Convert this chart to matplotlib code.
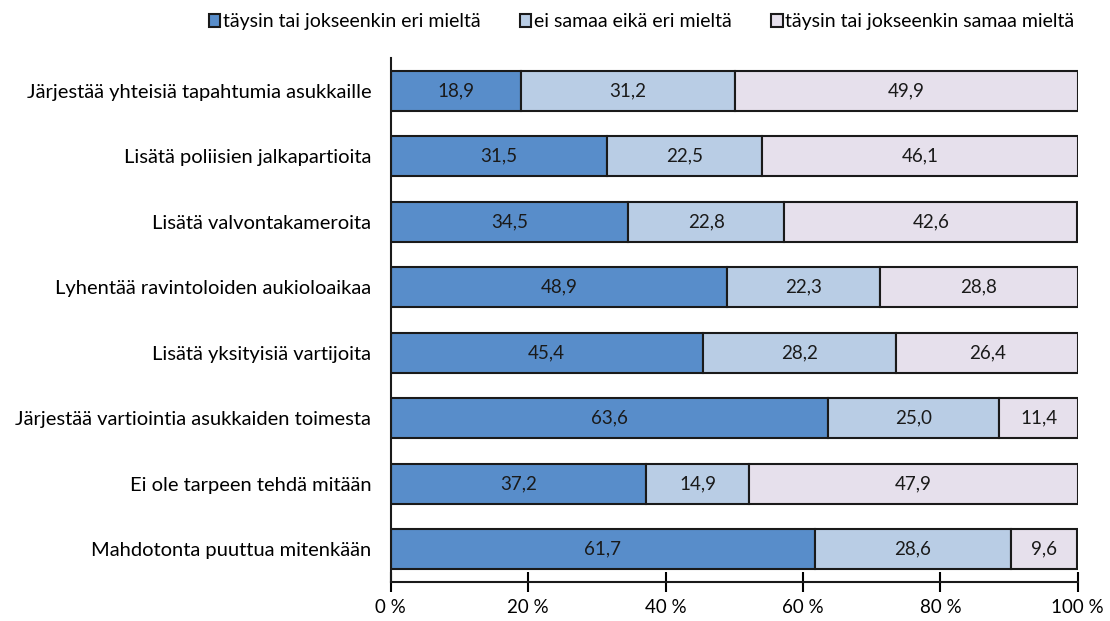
import numpy as np
import matplotlib.pyplot as plt
from matplotlib.patches import Patch

plt.rcParams['font.family'] = ['Lato', 'DejaVu Sans']

categories = ['Järjestää yhteisiä tapahtumia asukkaille',
              'Lisätä poliisien jalkapartioita',
              'Lisätä valvontakameroita',
              'Lyhentää ravintoloiden aukioloaikaa',
              'Lisätä yksityisiä vartijoita',
              'Järjestää vartiointia asukkaiden toimesta',
              'Ei ole tarpeen tehdä mitään',
              'Mahdotonta puuttua mitenkään']
disagree = [18.9, 31.5, 34.5, 48.9, 45.4, 63.6, 37.2, 61.7]
neutral = [31.2, 22.5, 22.8, 22.3, 28.2, 25.0, 14.9, 28.6]
agree = [49.9, 46.1, 42.6, 28.8, 26.4, 11.4, 47.9, 9.6]
series_names = ['täysin tai jokseenkin eri mieltä', 'ei samaa eikä eri mieltä',
                'täysin tai jokseenkin samaa mieltä']
colors = ['#588dca', '#b9cde5', '#e6e0ec']

fig = plt.figure(figsize=(11.1, 6.21), dpi=100)
ax = fig.add_axes([0.352, 0.0628, 0.619, 0.844])

y = np.arange(len(categories))
left = np.zeros(len(categories))
for vals, col in zip([disagree, neutral, agree], colors):
    vals = np.array(vals)
    ax.barh(y, vals, left=left, height=0.61, color=col, edgecolor='#1a1a1a', linewidth=1.5)
    for yi, l, v in zip(y, left, vals):
        ax.text(l + v / 2, yi, f'{v:.1f}'.replace('.', ','), ha='center', va='center',
                fontsize=13.5, color='#1a1a1a')
    left += vals

ax.set_ylim(7.5, -0.5)
ax.set_xlim(0, 100)
ax.set_yticks(y)
ax.set_yticklabels(categories, fontsize=14.5)
ax.tick_params(axis='y', length=0, pad=14)
ax.set_xticks(np.arange(0, 101, 20))
ax.set_xticklabels([f'{t} %' for t in range(0, 101, 20)], fontsize=13.5)
ax.tick_params(axis='x', direction='inout', length=14, width=1.5, pad=5)
for s in ['top', 'right']:
    ax.spines[s].set_visible(False)
for s in ['left', 'bottom']:
    ax.spines[s].set_linewidth(1.5)
    ax.spines[s].set_color('#1a1a1a')

handles = [Patch(facecolor=c, edgecolor='#1a1a1a', linewidth=1.5) for c in colors]
fig.legend(handles, series_names, loc='center', bbox_to_anchor=(0.578, 0.965), ncol=3,
           frameon=False, fontsize=14, handlelength=0.6, handleheight=0.6,
           handletextpad=0.15, columnspacing=2.0)

fig.savefig('out.png', dpi=100)
